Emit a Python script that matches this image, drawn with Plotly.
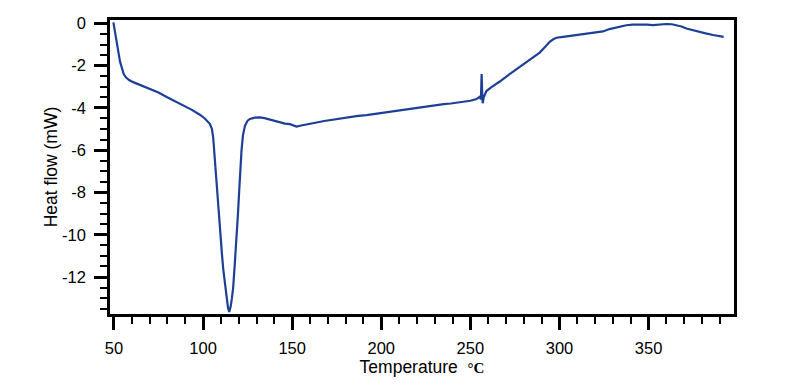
import plotly.graph_objects as go

temperature = [49.7, 50.3, 51.2, 52.4, 53.4, 54.3, 55.5, 56.7, 58.5, 60.8, 65, 70.2, 75, 79.6, 84, 88.9,
               93.5, 98.2, 101, 103.8, 105, 105.7, 106.6, 107.6, 108.5, 109.5, 110.5, 111.3, 112.3, 113.2,
               114.0, 114.7, 115.5, 116.2, 116.9, 117.8, 118.8, 119.6, 120.3, 121.0, 121.6, 122.4, 123.5,
               125, 126.3, 129, 131.9, 134.5, 137.5, 140, 143.1, 146, 148.7, 150.5, 152.5, 155, 158.1, 163,
               168, 173, 177, 182.4, 187, 191.7, 195, 199.2, 203, 206, 210.4, 215, 220, 225, 229.1, 235,
               239, 242.2, 246, 250, 253.4, 255.3, 255.9, 256.3, 256.6, 256.9, 257.5, 259, 262, 266.5,
               272, 277.7, 283, 288.9, 292, 294.5, 296.5, 298.3, 302, 307.6, 311.4, 316, 320.7, 324.4,
               328, 331.9, 335, 337.5, 341, 345, 349, 352.5, 356, 360, 363, 365.6, 368.5, 371.2, 375,
               378.7, 382, 386.2, 389, 392.1]
heat_flow = [0.05, -0.3, -0.8, -1.3, -1.8, -2.1, -2.4, -2.55, -2.68, -2.78, -2.93, -3.08, -3.27, -3.48,
             -3.66, -3.87, -4.08, -4.32, -4.5, -4.75, -5.0, -5.4, -6.5, -7.5, -8.8, -9.9, -10.8, -11.6,
             -12.4, -13.0, -13.45, -13.65, -13.4, -13.0, -12.5, -11.4, -10.2, -9.0, -7.9, -6.8, -6.0,
             -5.3, -4.85, -4.6, -4.52, -4.46, -4.45, -4.48, -4.55, -4.63, -4.7, -4.74, -4.77, -4.83,
             -4.88, -4.83, -4.77, -4.7, -4.62, -4.55, -4.49, -4.42, -4.38, -4.34, -4.3, -4.26, -4.2,
             -4.16, -4.1, -4.05, -3.98, -3.92, -3.87, -3.82, -3.79, -3.76, -3.72, -3.66, -3.58, -3.47,
             -3.6, -2.4, -3.2, -3.78, -3.5, -3.2, -3.0, -2.75, -2.4, -2.05, -1.73, -1.38, -1.1, -0.87,
             -0.75, -0.68, -0.64, -0.58, -0.52, -0.47, -0.44, -0.38, -0.27, -0.19, -0.12, -0.09, -0.06,
             -0.05, -0.06, -0.08, -0.05, -0.03, -0.04, -0.08, -0.15, -0.24, -0.33, -0.4, -0.47, -0.55,
             -0.6, -0.64]

x_tick_values = [50, 100, 150, 200, 250, 300, 350]
x_tick_labels = ["50", "100", "150", "200", "250", "300", "350"]
y_tick_values = [0, -2, -4, -6, -8, -10, -12]
y_tick_labels = ["0", "-2", "-4", "-6", "-8", "-10", "-12"]

fig = go.Figure()
fig.add_trace(go.Scatter(x=temperature, y=heat_flow, mode="lines",
                         line=dict(color="#1d3f96", width=2.2), showlegend=False))

font_main = "Liberation Sans, Arial, sans-serif"
fig.update_layout(
    width=784, height=381,
    margin=dict(l=102, r=58, t=12, b=75, autoexpand=False),
    paper_bgcolor="white", plot_bgcolor="white",
    font=dict(family=font_main, color="black", size=16),
    xaxis=dict(
        range=[47.8, 397.9], tickvals=x_tick_values, ticktext=x_tick_labels,
        ticks="outside", ticklen=13, tickwidth=2.5, tickcolor="black",
        minor=dict(dtick=10, tick0=50, ticks="outside", ticklen=7, tickwidth=2, tickcolor="black"),
        showline=True, linewidth=2.5, linecolor="black", mirror=True,
        showgrid=False, zeroline=False, automargin=False,
        tickfont=dict(size=16.5), ticklabelstandoff=4,
        title=dict(text='Temperature  <b><span style="font-family:Liberation Serif,Times New Roman,serif;font-size:15px">°C</span></b>',
                   font=dict(size=17.5), standoff=5),
    ),
    yaxis=dict(
        range=[-13.75, 0.16], tickvals=y_tick_values, ticktext=y_tick_labels,
        ticks="outside", ticklen=13, tickwidth=2.5, tickcolor="black",
        minor=dict(dtick=0.5, tick0=0, ticks="outside", ticklen=7, tickwidth=2, tickcolor="black"),
        showline=True, linewidth=2.5, linecolor="black", mirror=True,
        showgrid=False, zeroline=False, automargin=False,
        tickfont=dict(size=16.5), ticklabelstandoff=5,
        title=dict(text="Heat flow (mW)", font=dict(size=17.5), standoff=0),
    ),
)

fig.write_html("out.html")
